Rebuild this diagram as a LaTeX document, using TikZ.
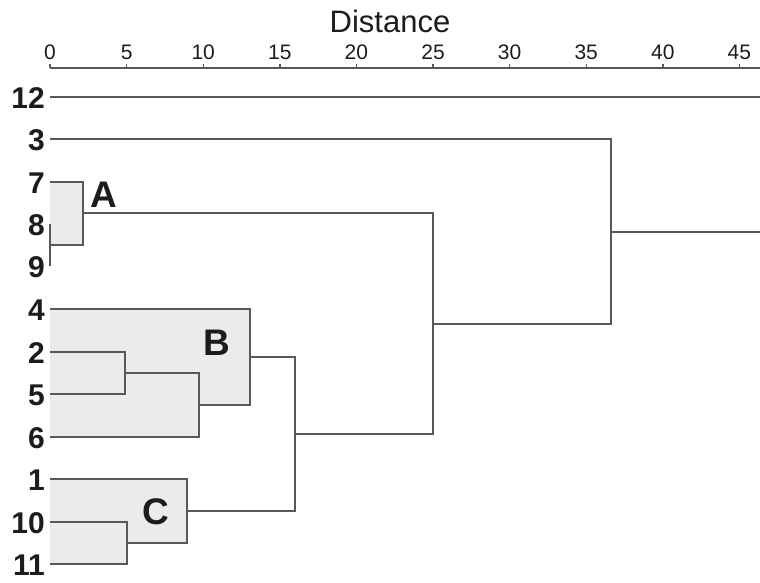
\documentclass[tikz,border=0pt]{standalone}
\usepackage{fontspec}
\setmainfont{Liberation Sans}
\begin{document}
\begin{tikzpicture}[x=1pt,y=-1pt,
  link/.style={draw=linegray,line width=1.4pt},
  clusterfill/.style={fill=boxgray,draw=none},
  leaflabel/.style={anchor=east,inner sep=0pt,text=textdark,font=\fontsize{30}{34}\selectfont\bfseries},
  ticklabel/.style={inner sep=0pt,text=textdark,font=\fontsize{21}{24}\selectfont},
  grouplabel/.style={inner sep=0pt,text=textdark,font=\fontsize{37}{42}\selectfont\bfseries}]
\definecolor{linegray}{HTML}{585858}
\definecolor{boxgray}{HTML}{EBEBEB}
\definecolor{textdark}{HTML}{1C1C1C}
\useasboundingbox (0,0) rectangle (760,582);
% leaves
\coordinate (l12) at (50,97);
\coordinate (l3) at (50,139);
\coordinate (l7) at (50,182);
\coordinate (l8) at (50,224);
\coordinate (l9) at (50,266);
\coordinate (l4) at (50,309);
\coordinate (l2) at (50,352);
\coordinate (l5) at (50,394);
\coordinate (l6) at (50,437);
\coordinate (l1) at (50,479);
\coordinate (l10) at (50,522);
\coordinate (l11) at (50,564);
% merges
\coordinate (m89) at (50,245);
\coordinate (mA) at (83,213);
\coordinate (m25) at (125,373);
\coordinate (m256) at (199,405);
\coordinate (mB) at (250,357);
\coordinate (m1011) at (127,543);
\coordinate (mC) at (187,511);
\coordinate (mBC) at (295,434);
\coordinate (mABC) at (433,324);
\coordinate (mall) at (611,232);
\coordinate (rootend) at (760,232);
\coordinate (end12) at (760,97);
% cluster shading
\fill[clusterfill] (50,182) rectangle (83,245);
\fill[clusterfill] (50,309) -- (250,309) -- (250,405) -- (199,405) -- (199,437) -- (50,437) -- cycle;
\fill[clusterfill] (50,479) -- (187,479) -- (187,543) -- (127,543) -- (127,564) -- (50,564) -- cycle;
% axis
\coordinate (ax0) at (50,68);
\coordinate (axend) at (760,68);
\draw[link] (ax0) -- (axend);
\foreach \d in {0,5,...,45} {
  \draw[link] ({50+15.32*\d},68) -- ({50+15.32*\d},63.5);
  \node[ticklabel] (t\d) at ({50+15.32*\d},52) {\d};
}
\node[inner sep=0pt,text=textdark,font=\fontsize{31}{36}\selectfont] (title) at (390,21) {Distance};
% links
\draw[link] (l12) -- (end12);
\draw[link] (l8) -- (l9);
\draw[link] (l7) -- (l7 -| mA) -- (m89 -| mA) -- (m89);
\draw[link] (l2) -- (l2 -| m25) -- (l5 -| m25) -- (l5);
\draw[link] (m25) -- (m25 -| m256) -- (l6 -| m256) -- (l6);
\draw[link] (l4) -- (l4 -| mB) -- (m256 -| mB) -- (m256);
\draw[link] (l10) -- (l10 -| m1011) -- (l11 -| m1011) -- (l11);
\draw[link] (l1) -- (l1 -| mC) -- (m1011 -| mC) -- (m1011);
\draw[link] (mB) -- (mB -| mBC) -- (mC -| mBC) -- (mC);
\draw[link] (mA) -- (mA -| mABC) -- (mBC -| mABC) -- (mBC);
\draw[link] (l3) -- (l3 -| mall) -- (mABC -| mall) -- (mABC);
\draw[link] (mall) -- (rootend);
% leaf labels
\foreach \n/\yy in {12/97,3/139,7/182,8/224,9/266,4/309,2/352,5/394,6/437,1/479,10/522,11/564} {
  \node[leaflabel] (lab\n) at (45,\yy+1.5) {\n};
}
% group labels
\node[grouplabel] (gA) at (104,195) {A};
\node[grouplabel] (gB) at (217,343) {B};
\node[grouplabel] (gC) at (156,511.5) {C};
\end{tikzpicture}
\end{document}
